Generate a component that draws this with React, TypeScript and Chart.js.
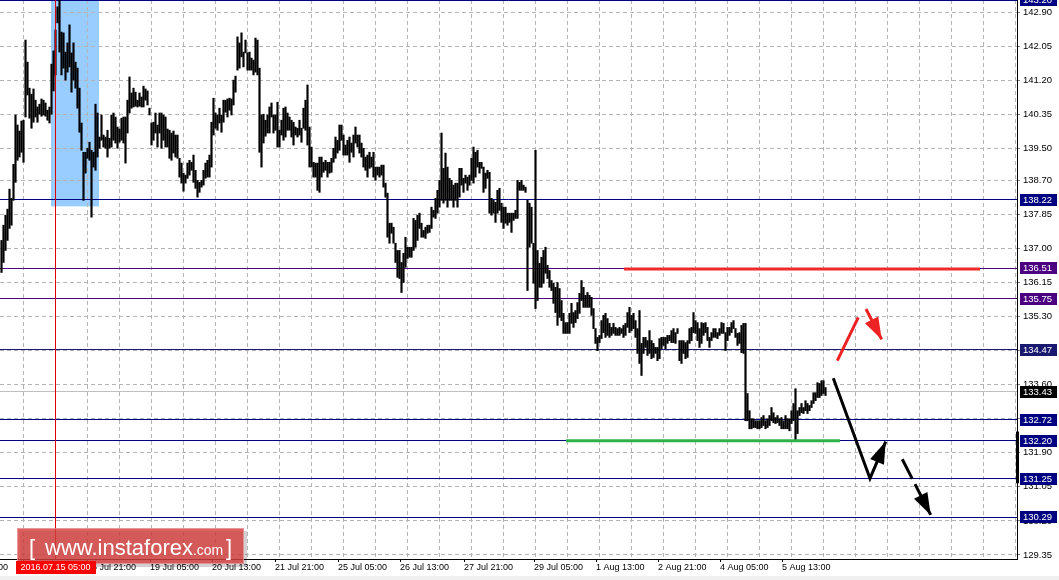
import React, { useEffect, useRef } from 'react';
import { Chart, registerables } from 'chart.js';

Chart.register(...registerables);

// H1 bars: highs and lows (price), one bar per hour
const highs = [
  137.20,137.58,137.83,137.98,138.48,138.25,139.10,140.33,140.08,139.93,
  140.18,140.20,142.20,141.65,141.00,140.85,140.98,140.70,140.53,140.60,
  140.73,140.70,140.63,140.45,140.53,141.60,141.93,142.45,143.03,143.20,
  142.40,142.38,141.90,142.13,142.58,141.88,142.13,141.65,141.50,141.00,
  140.13,139.40,139.40,139.50,139.65,139.45,139.40,140.60,140.38,139.78,
  140.33,139.83,139.78,139.95,139.75,140.33,140.38,140.28,140.03,139.98,
  140.25,140.28,140.28,140.70,141.28,140.88,141.00,140.90,140.70,140.88,
  140.78,141.05,140.98,140.93,140.50,140.13,140.15,140.38,140.08,140.38,
  140.38,140.33,140.28,139.98,139.95,139.88,139.93,139.83,139.83,139.25,
  139.13,138.88,138.83,139.13,139.20,139.15,139.33,138.95,138.70,138.65,
  138.70,138.95,139.13,139.20,139.33,140.15,140.75,140.38,140.33,140.50,
  140.33,140.70,140.70,140.73,140.75,140.73,141.20,141.30,142.28,142.13,
  142.38,141.90,142.20,141.88,141.90,141.75,141.70,142.25,142.20,141.50,
  140.33,140.35,140.20,140.33,140.53,140.63,140.33,140.33,140.65,139.95,
  140.20,140.50,140.53,140.38,140.28,140.20,140.15,140.03,140.00,140.20,
  140.00,140.50,140.70,141.08,140.03,139.53,139.15,139.13,139.13,139.28,
  139.28,139.15,139.20,139.15,139.15,139.25,139.50,139.78,139.70,140.08,
  140.08,139.83,139.58,139.70,139.78,139.63,139.83,140.03,139.83,139.83,
  139.63,139.50,139.28,139.33,139.40,139.28,139.40,139.03,139.03,139.03,
  139.08,139.08,138.63,138.38,137.63,137.63,137.53,137.13,136.95,136.95,
  136.65,136.88,137.28,137.03,137.03,137.03,137.75,137.70,137.83,137.88,
  137.63,137.45,137.53,137.58,137.58,138.03,137.95,138.25,138.45,138.70,
  139.88,139.00,139.38,139.03,138.75,138.70,138.58,138.63,138.63,139.00,
  139.00,138.75,138.83,138.78,138.83,139.25,139.53,139.40,139.45,139.15,
  139.15,139.03,138.88,138.95,138.90,138.25,138.20,138.15,138.45,138.50,
  138.13,138.03,138.03,137.88,137.88,137.88,137.88,137.95,138.70,138.65,
  138.70,138.58,138.53,138.20,138.13,138.03,137.13,139.45,136.95,136.63,
  136.78,136.95,137.03,136.58,136.45,136.20,136.13,136.03,136.15,136.00,
  135.70,135.38,135.15,135.15,135.38,135.63,135.40,135.45,135.65,135.88,
  136.20,136.03,135.83,135.90,135.83,135.78,135.50,135.00,134.78,134.83,
  135.20,135.33,135.38,135.25,135.13,135.03,135.13,135.03,135.00,135.03,
  135.00,135.08,135.13,135.40,135.53,135.33,135.38,135.20,135.00,135.45,
  134.63,134.78,134.78,134.70,134.95,134.70,134.63,134.53,134.53,134.75,
  134.78,134.78,134.78,134.83,134.83,134.95,135.00,134.90,135.00,134.70,
  134.70,134.70,134.65,134.70,135.00,135.03,135.40,135.20,135.15,135.00,
  135.15,135.13,135.15,135.03,134.78,134.90,135.00,135.00,134.90,135.00,
  135.15,135.13,134.90,135.03,135.03,135.15,135.20,135.00,134.88,134.90,
  135.08,135.13,135.13,133.38,132.95,132.75,132.75,132.70,132.70,132.70,
  132.78,132.83,132.70,132.75,132.83,133.03,132.90,132.78,132.83,132.75,
  132.78,132.70,132.83,132.75,132.75,132.95,133.13,133.50,132.95,133.03,
  133.13,133.03,133.20,133.13,133.08,133.20,133.40,133.40,133.65,133.63,
  133.70,133.70,133.53,
];

const lows = [
  136.40,136.65,136.95,137.20,137.50,137.58,138.20,138.65,139.20,139.28,
  139.40,139.15,140.28,140.83,140.25,140.00,140.15,140.28,140.15,140.35,
  140.30,140.33,140.30,140.20,140.13,140.35,140.93,141.33,142.63,141.90,
  141.33,141.50,141.20,141.40,141.53,140.90,141.20,141.00,140.50,139.90,
  139.45,138.20,138.88,139.25,139.20,137.78,139.03,138.95,139.28,139.50,
  139.70,139.53,139.50,139.28,139.50,139.53,139.70,139.63,139.50,139.65,
  139.70,139.63,139.13,139.88,140.38,140.50,140.53,140.55,140.53,140.55,
  140.53,140.53,140.70,140.58,140.33,139.58,139.70,139.88,139.53,139.88,
  139.50,139.70,139.53,139.53,139.25,139.20,139.38,139.28,139.25,138.78,
  138.63,138.43,138.63,138.75,138.83,138.95,138.65,138.50,138.28,138.40,
  138.53,138.58,138.75,138.78,138.78,139.03,139.83,140.00,139.95,140.13,
  139.90,140.15,140.40,140.28,140.45,140.33,140.58,140.90,141.45,141.50,
  141.78,141.53,141.88,141.45,141.45,141.45,141.33,141.40,141.33,139.40,
  139.03,139.63,139.80,139.88,139.88,140.28,139.88,139.95,139.53,139.53,
  139.83,139.70,139.78,139.95,139.95,139.78,139.58,139.83,139.78,139.83,
  139.65,140.00,139.95,139.58,139.03,139.03,138.78,138.78,138.45,138.40,
  138.78,138.90,138.95,138.78,138.88,138.90,139.15,139.25,139.38,139.45,
  139.70,139.33,139.33,139.33,139.15,139.40,139.28,139.63,139.53,139.38,
  139.28,139.03,138.95,138.78,139.00,139.03,138.78,138.70,138.83,138.78,
  138.83,138.53,138.28,137.28,137.13,137.38,137.13,136.65,136.28,136.25,
  135.90,136.15,136.53,136.75,136.78,136.78,136.95,137.03,137.20,137.50,
  137.28,137.28,137.25,137.38,137.40,137.50,137.78,137.75,137.88,138.03,
  138.20,138.13,138.20,138.03,138.20,138.20,138.03,138.20,138.03,138.28,
  138.58,138.40,138.63,138.45,138.58,138.70,138.63,138.78,139.03,138.88,
  139.00,138.40,138.50,138.75,137.88,137.83,137.88,137.65,137.88,137.95,
  137.65,137.50,137.63,137.58,137.65,137.40,137.70,137.75,137.75,138.45,
  138.45,138.45,138.40,135.95,137.03,137.13,136.13,135.50,135.70,136.03,
  136.03,136.13,136.38,136.25,136.03,135.95,135.63,135.40,135.08,135.28,
  135.20,134.88,134.88,134.88,134.88,135.13,135.03,135.15,135.25,135.38,
  135.70,135.53,135.53,135.53,135.53,135.33,135.00,134.63,134.45,134.65,
  134.75,134.90,134.78,134.83,134.78,134.83,134.88,134.83,134.83,134.83,
  134.88,134.78,134.83,135.03,134.90,134.95,135.00,134.78,134.38,134.13,
  133.83,134.38,134.53,134.33,134.38,134.25,134.28,134.38,134.20,134.25,
  134.50,134.58,134.50,134.63,134.70,134.65,134.65,134.63,134.88,134.20,
  134.13,134.38,134.25,134.28,134.63,134.70,134.90,134.88,134.70,134.53,
  134.63,134.83,134.90,134.70,134.53,134.70,134.78,134.78,134.75,134.83,
  134.88,134.88,134.45,134.70,134.83,134.90,135.00,134.78,134.58,134.63,
  134.40,134.38,132.70,132.70,132.50,132.50,132.53,132.53,132.50,132.50,
  132.53,132.58,132.50,132.53,132.58,132.70,132.65,132.63,132.65,132.58,
  132.50,132.50,132.50,132.50,132.45,132.63,132.70,132.20,132.38,132.83,
  132.90,132.88,132.95,132.88,132.95,133.03,133.13,133.20,133.28,133.28,
  133.33,133.38,133.33,
];

// price axis
const yTicks = [129.35, 130.20, 131.05, 131.90, 132.75, 133.60, 134.45, 135.30, 136.15, 137.00, 137.85, 138.70, 139.50, 140.35, 141.20, 142.05, 142.90];
const yMin = 129.25;
const yMax = 143.20;

// time axis (bar index positions of labels)
const xTickPos = [-21.25, 10.75, 42.75, 74.25, 105.25, 136.75, 168.25, 199.25, 231.25, 266.25, 297.25, 328.25, 359.25, 390.25];
const xTickText = ['13 Jul 05:00', '14 Jul 13:00', '15 Jul 21:00', '19 Jul 05:00', '20 Jul 13:00', '21 Jul 21:00', '25 Jul 05:00', '26 Jul 13:00', '27 Jul 21:00', '29 Jul 05:00', '1 Aug 13:00', '2 Aug 21:00', '4 Aug 05:00', '5 Aug 13:00'];
const xGridPos = [10.75, 26.75, 42.75, 58.75, 74.75, 90.75, 106.75, 122.75, 138.75, 154.75, 170.75, 186.75, 202.75, 218.75, 234.75, 250.75, 266.75, 282.75, 298.75, 314.75, 330.75, 346.75, 362.75, 378.75, 394.75, 410.75, 426.75, 442.75, 458.75, 474.75, 490.75, 506.75];
const xMin = -0.75;
const xMax = 507.75;

// horizontal levels
const levelValues = [143.20, 138.22, 136.51, 135.75, 134.47, 132.72, 132.20, 131.25, 130.29];
const levelColors = ['#000080', '#000080', '#4b0082', '#4b0082', '#191970', '#000080', '#000080', '#000080', '#000080'];
const bidPrice = 133.43;
// marker band on the price axis
const axisBand = [131.14, 132.43];

// highlighted zone and vertical marker
const zoneX = [24.75, 48.75];
const zoneY = [138.05, 143.20];
const markerIndex = 27;
const markerLabel = '2016.07.15 05:00';

// drawn lines / arrows (bar index, price)
const redLineX = [311.25, 489.25];
const redLineY = [136.49, 136.49];
const greenLineX = [282.25, 419.25];
const greenLineY = [132.20, 132.20];
const redUpX = [417.9, 428.4];
const redUpY = [134.20, 135.28];
const redArrowX = [432.25, 440.1];
const redArrowY = [135.49, 134.73];
const blackPathX = [415.9, 434.25, 442.1];
const blackPathY = [133.76, 131.26, 132.18];
const blackDashX = [450.4, 464.6];
const blackDashY = [131.74, 130.35];

const FONT = "'Liberation Sans', Arial, sans-serif";

const pts = (xs: number[], ys: number[]) => xs.map((x, i) => ({ x, y: ys[i] }));

function arrowHead(c: CanvasRenderingContext2D, x0: number, y0: number, x1: number, y1: number, color: string) {
  const ang = Math.atan2(y1 - y0, x1 - x0);
  const L = 22;
  const W = 7.5;
  const bx = x1 - L * Math.cos(ang);
  const by = y1 - L * Math.sin(ang);
  const nx = -Math.sin(ang);
  const ny = Math.cos(ang);
  c.beginPath();
  c.moveTo(x1, y1);
  c.lineTo(bx + nx * W, by + ny * W);
  c.lineTo(bx - nx * W, by - ny * W);
  c.closePath();
  c.fillStyle = color;
  c.fill();
}

const overlay = {
  id: 'overlay',
  beforeDraw(chart: any) {
    const c = chart.ctx;
    const { x, y } = chart.scales;
    c.save();
    c.fillStyle = '#ffffff';
    c.fillRect(0, 0, chart.width, chart.height);
    c.fillStyle = '#f0f0f0';
    c.fillRect(0, 576, chart.width, chart.height - 576);
    const x0 = x.getPixelForValue(zoneX[0]);
    const x1 = x.getPixelForValue(zoneX[1]);
    const y0 = y.getPixelForValue(zoneY[1]);
    const y1 = y.getPixelForValue(zoneY[0]);
    c.fillStyle = '#99ccff';
    c.fillRect(x0, y0, x1 - x0, y1 - y0);
    c.restore();
  },
  beforeDatasetsDraw(chart: any) {
    const c = chart.ctx;
    const a = chart.chartArea;
    const y = chart.scales.y;
    c.save();
    c.lineWidth = 1;
    const yb = Math.round(y.getPixelForValue(bidPrice) - 0.5) + 0.5;
    c.strokeStyle = '#c0c0c0';
    c.beginPath();
    c.moveTo(a.left, yb);
    c.lineTo(a.right, yb);
    c.stroke();
    levelValues.forEach((v, k) => {
      const yy = Math.round(y.getPixelForValue(v) - 0.5) + 0.5;
      c.strokeStyle = levelColors[k];
      c.beginPath();
      c.moveTo(a.left, yy);
      c.lineTo(a.right, yy);
      c.stroke();
    });
    c.restore();
  },
  afterDatasetsDraw(chart: any) {
    const c = chart.ctx;
    const a = chart.chartArea;
    const { x, y } = chart.scales;
    c.save();
    c.beginPath();
    c.rect(a.left, a.top, a.right - a.left, a.bottom - a.top);
    c.clip();
    const mx = Math.round(x.getPixelForValue(markerIndex) - 0.5) + 0.5;
    c.strokeStyle = '#dd0000';
    c.lineWidth = 1;
    c.beginPath();
    c.moveTo(mx, a.top);
    c.lineTo(mx, a.bottom);
    c.stroke();
    const px = (v: number) => x.getPixelForValue(v);
    const py = (v: number) => y.getPixelForValue(v);
    arrowHead(c, px(redArrowX[0]), py(redArrowY[0]), px(redArrowX[1]), py(redArrowY[1]), '#ee2222');
    const n = blackPathX.length;
    arrowHead(c, px(blackPathX[n - 2]), py(blackPathY[n - 2]), px(blackPathX[n - 1]), py(blackPathY[n - 1]), '#000000');
    arrowHead(c, px(blackDashX[0]), py(blackDashY[0]), px(blackDashX[1]), py(blackDashY[1]), '#000000');
    c.restore();
  },
  afterDraw(chart: any) {
    const c = chart.ctx;
    const a = chart.chartArea;
    const { x, y } = chart.scales;
    c.save();
    // thick band on the axis border
    const bTop = y.getPixelForValue(axisBand[1]);
    const bBot = y.getPixelForValue(axisBand[0]);
    c.fillStyle = '#000000';
    c.fillRect(a.right - 1, bTop, 3, bBot - bTop);

    const bx = a.right + 3;
    const bw = 37;
    const bh = 12;
    const box = (v: number, color: string) => {
      const yy = y.getPixelForValue(v);
      const top = Math.round(yy - bh / 2);
      c.fillStyle = color;
      c.fillRect(bx, top, bw, bh);
      c.fillStyle = '#ffffff';
      c.font = '9.5px ' + FONT;
      c.textBaseline = 'middle';
      c.textAlign = 'left';
      c.fillText(v.toFixed(2), bx + 3, top + bh / 2 + 0.5);
    };
    levelValues.forEach((v, k) => box(v, levelColors[k]));
    box(bidPrice, '#000000');

    const lx = 17, ly = 528, lw = 227, lh = 36;
    c.fillStyle = 'rgba(0,0,0,0.18)';
    c.fillRect(lx + 3, ly + 3, lw, lh);
    c.fillStyle = 'rgba(212, 64, 64, 0.82)';
    c.fillRect(lx, ly, lw, lh);
    c.strokeStyle = 'rgba(255,255,255,0.35)';
    c.lineWidth = 1;
    c.strokeRect(lx + 0.5, ly + 0.5, lw - 1, lh - 1);
    c.fillStyle = '#ffffff';
    c.textBaseline = 'alphabetic';
    c.textAlign = 'left';
    c.font = '22px ' + FONT;
    c.fillText('[', 29, 555);
    c.fillText('www.instaforex', 45, 555);
    const w1 = c.measureText('www.instaforex').width;
    c.font = '14px ' + FONT;
    c.fillText('.com', 45 + w1, 555);
    c.font = '22px ' + FONT;
    c.fillText(']', 226, 555);

    const mx = x.getPixelForValue(markerIndex);
    c.font = '9px ' + FONT;
    const tw = c.measureText(markerLabel).width;
    const rw = Math.round(tw + 10);
    const rx = Math.round(mx - rw / 2);
    c.fillStyle = '#ff0000';
    c.fillRect(rx, 561, rw, 13);
    c.fillStyle = '#ffffff';
    c.textBaseline = 'middle';
    c.textAlign = 'center';
    c.fillText(markerLabel, mx, 568);
    c.restore();
  },
};

export default function App() {
  const ref = useRef<HTMLCanvasElement | null>(null);
  useEffect(() => {
    document.body.style.margin = '0';
    const canvas = ref.current;
    if (!canvas) return;
    const barData = highs.map((h, i) => ({ x: i, y: [lows[i], h] }));
    const chart = new Chart(canvas, {
      type: 'bar',
      data: {
        datasets: [
          { type: 'line', data: pts(redLineX, redLineY), borderColor: '#ee2a2a', borderWidth: 3, pointRadius: 0, order: 0 },
          { type: 'line', data: pts(greenLineX, greenLineY), borderColor: '#2db34a', borderWidth: 3, pointRadius: 0, order: 0 },
          { type: 'line', data: pts(redUpX, redUpY), borderColor: '#ee2222', borderWidth: 3, pointRadius: 0, order: 0 },
          { type: 'line', data: pts(redArrowX, redArrowY), borderColor: '#ee2222', borderWidth: 3, pointRadius: 0, order: 0 },
          { type: 'line', data: pts(blackPathX, blackPathY), borderColor: '#000000', borderWidth: 3, pointRadius: 0, order: 0 },
          { type: 'line', data: pts(blackDashX, blackDashY), borderColor: '#000000', borderWidth: 3, borderDash: [22, 6], pointRadius: 0, order: 0 },
          { type: 'bar', data: barData, backgroundColor: '#000000', borderWidth: 0, barThickness: 1.5, order: 10 },
        ] as any,
      },
      options: {
        animation: false,
        responsive: false,
        events: [],
        layout: { padding: 0 },
        plugins: { legend: { display: false }, tooltip: { enabled: false } },
        scales: {
          x: {
            type: 'linear',
            position: 'bottom',
            offset: false,
            min: xMin,
            max: xMax,
            afterBuildTicks: (s: any) => { s.ticks = xTickPos.map((v) => ({ value: v })); },
            afterFit: (s: any) => { s.height = 21; s.paddingLeft = 0; s.paddingRight = 0; },
            ticks: {
              autoSkip: false,
              maxRotation: 0,
              minRotation: 0,
              align: 'start',
              padding: 0,
              color: '#000000',
              font: { family: FONT, size: 9 },
              callback: (_v: any, i: number) => xTickText[i],
            },
            grid: { offset: false, drawOnChartArea: false, drawTicks: true, tickLength: 3, tickColor: '#000000', tickWidth: 1 },
            border: { display: true, color: '#000000', width: 1 },
          },
          xg: {
            type: 'linear',
            position: 'bottom',
            offset: false,
            min: xMin,
            max: xMax,
            afterBuildTicks: (s: any) => { s.ticks = xGridPos.map((v) => ({ value: v })); },
            afterFit: (s: any) => { s.height = 0; s.paddingLeft = 0; s.paddingRight = 0; },
            ticks: { display: false },
            grid: { offset: false, color: '#b4b4b4', drawTicks: false, lineWidth: 1 },
            border: { display: false, dash: [4, 3] },
          },
          y: {
            type: 'linear',
            position: 'right',
            min: yMin,
            max: yMax,
            afterBuildTicks: (s: any) => { s.ticks = yTicks.map((v) => ({ value: v })); },
            afterFit: (s: any) => { s.width = 42; s.paddingTop = 0; s.paddingBottom = 0; },
            ticks: {
              color: '#000000',
              padding: 3,
              font: { family: FONT, size: 9.5 },
              callback: (v: any) => Number(v).toFixed(2),
            },
            grid: { color: '#b4b4b4', drawTicks: true, tickLength: 3, tickColor: '#808080', lineWidth: 1 },
            border: { display: true, color: '#000000', width: 1, dash: [4, 3] },
          },
        } as any,
      },
      plugins: [overlay],
    });
    return () => chart.destroy();
  }, []);
  return (
    <div style={{ position: 'absolute', left: 0, top: 0, width: 1059, height: 580 }}>
      <canvas ref={ref} width={1059} height={580} style={{ display: 'block' }} />
    </div>
  );
}
